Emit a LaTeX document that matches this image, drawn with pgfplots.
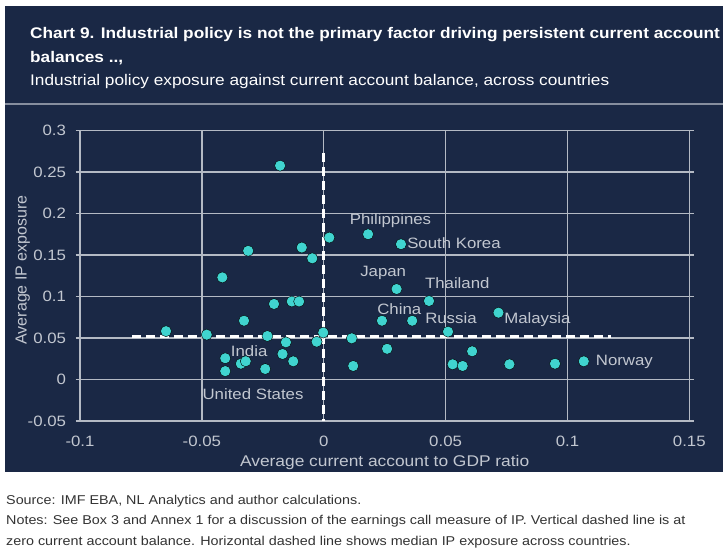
\documentclass[border=0pt]{standalone}
\usepackage{pgfplots}
\pgfplotsset{compat=1.18}
\usepackage{fontspec}
\setmainfont{Liberation Sans}[FakeStretch=1.12]
\newfontfamily\plainfont{Liberation Sans}
\definecolor{navy}{HTML}{1A2845}
\definecolor{turq}{HTML}{40D4CF}
\definecolor{gridc}{HTML}{B4BAC4}
\definecolor{labc}{HTML}{C2C7D0}
\begin{document}
\begin{tikzpicture}[x=1bp,y=1bp]
\useasboundingbox (0,0) rectangle (723,557);
\fill[white] (0,0) rectangle (723,557);
\fill[navy] (5,85) rectangle (723,551);
\draw[gridc!70!navy, line width=1.6bp] (5,453) -- (723,453);
\node[anchor=base west, inner sep=0pt, text=white, font=\fontsize{15.4bp}{19bp}\selectfont\bfseries] at (30,518.5) {Chart 9. Industrial policy is not the primary factor driving persistent current account};
\node[anchor=base west, inner sep=0pt, text=white, font=\fontsize{15.4bp}{19bp}\selectfont\bfseries] at (30,494.5) {balances ..,};
\node[anchor=base west, inner sep=0pt, text=white, font=\fontsize{15.4bp}{19bp}\selectfont] at (30,471) {Industrial policy exposure against current account balance, across countries};
\node[anchor=base west, inner sep=0pt, text=black!80, font=\fontsize{12.8bp}{16bp}\selectfont] at (6,52) {Source: IMF EBA, NL Analytics and author calculations.};
\node[anchor=base west, inner sep=0pt, text=black!80, font=\fontsize{12.8bp}{16bp}\selectfont] at (6,32.5) {Notes: See Box 3 and Annex 1 for a discussion of the earnings call measure of IP. Vertical dashed line is at};
\node[anchor=base west, inner sep=0pt, text=black!80, font=\fontsize{12.8bp}{16bp}\selectfont] at (6,11.5) {zero current account balance. Horizontal dashed line shows median IP exposure across countries.};
\begin{axis}[
  at={(80bp,136bp)}, anchor=south west,
  width=609.3bp, height=290.5bp, scale only axis,
  xmin=-0.1, xmax=0.15, ymin=-0.05, ymax=0.3,
  axis line style={draw=gridc, line width=1.3bp},
  grid=major, grid style={draw=gridc, line width=1.3bp},
  xtick={-0.1,-0.05,0,0.05,0.1,0.15},
  xticklabels={-0.1,-0.05,0,0.05,0.1,0.15},
  ytick={-0.05,0,0.05,0.1,0.15,0.2,0.25,0.3},
  yticklabels={-0.05,0,0.05,0.1,0.15,0.2,0.25,0.3},
  xtick style={draw=none},
  ytick style={draw=gridc, line width=1.3bp},
  ytick align=outside, major tick length=4.5bp,
  ticklabel style={text=labc, font=\fontsize{15bp}{18bp}\selectfont},
  xticklabel style={yshift=-11.5bp},
  yticklabel style={xshift=-6bp},
  xlabel={Average current account to GDP ratio},
  ylabel={Average IP exposure},
  label style={text=labc},
  xlabel style={font=\fontsize{15.5bp}{18bp}\selectfont, at={(axis description cs:0.5,0)}, anchor=center, yshift=-41bp},
  ylabel style={font=\plainfont\fontsize{16bp}{18bp}\selectfont, at={(ticklabel cs:0.52)}},
  ylabel shift=-9bp,
  clip=false,
]
\addplot[white, line width=3.2bp, dash pattern=on 9bp off 5bp] coordinates {(0,0.273) (0,-0.05)};
\addplot[white, line width=3.2bp, dash pattern=on 9bp off 5bp] coordinates {(-0.0787,0.0522) (0.118,0.0522)};
\addplot[only marks, mark=*, mark size=5.5bp, mark options={fill=turq, draw=none}] coordinates {
(-0.0179,0.2576) (0.0023,0.171) (0.0182,0.175) (-0.031,0.155) (-0.009,0.159)
(-0.0047,0.146) (-0.0416,0.123) (0.0317,0.163) (0.0299,0.109) (0.0432,0.0946)
(0.0717,0.0805) (0.0239,0.0708) (0.0363,0.0708) (0.051,0.0576) (-0.0002,0.0565)
(0.0115,0.0496) (0.026,0.037) (0.0609,0.034) (0.0121,0.0163) (0.0529,0.0183)
(0.057,0.0163) (0.0762,0.0183) (0.0949,0.019) (0.1067,0.0219) (-0.0204,0.091)
(-0.0131,0.094) (-0.0101,0.094) (-0.0327,0.0708) (-0.0647,0.0582) (-0.048,0.0540)
(-0.0231,0.0524) (-0.0155,0.0448) (-0.0029,0.0455) (-0.0404,0.0256) (-0.034,0.019)
(-0.032,0.022) (-0.0169,0.0307) (-0.0125,0.0219) (-0.024,0.0127) (-0.0404,0.0101)
};
\begin{scope}[every node/.style={text=labc, font=\fontsize{15bp}{18bp}\selectfont, inner sep=0pt}]
\node[anchor=center] at (axis cs:0.0274,0.191) {Philippines};
\node[anchor=west] at (axis cs:0.0342,0.164) {South Korea};
\node[anchor=center] at (axis cs:0.0244,0.128) {Japan};
\node[anchor=center] at (axis cs:0.0548,0.116) {Thailand};
\node[anchor=center] at (axis cs:0.031,0.085) {China};
\node[anchor=center] at (axis cs:0.0522,0.0745) {Russia};
\node[anchor=west] at (axis cs:0.074,0.0725) {Malaysia};
\node[anchor=west] at (axis cs:0.1116,0.0214) {Norway};
\node[anchor=center] at (axis cs:-0.0306,0.0343) {India};
\node[anchor=center] at (axis cs:-0.029,-0.0175) {United States};
\end{scope}
\end{axis}
\end{tikzpicture}
\end{document}
